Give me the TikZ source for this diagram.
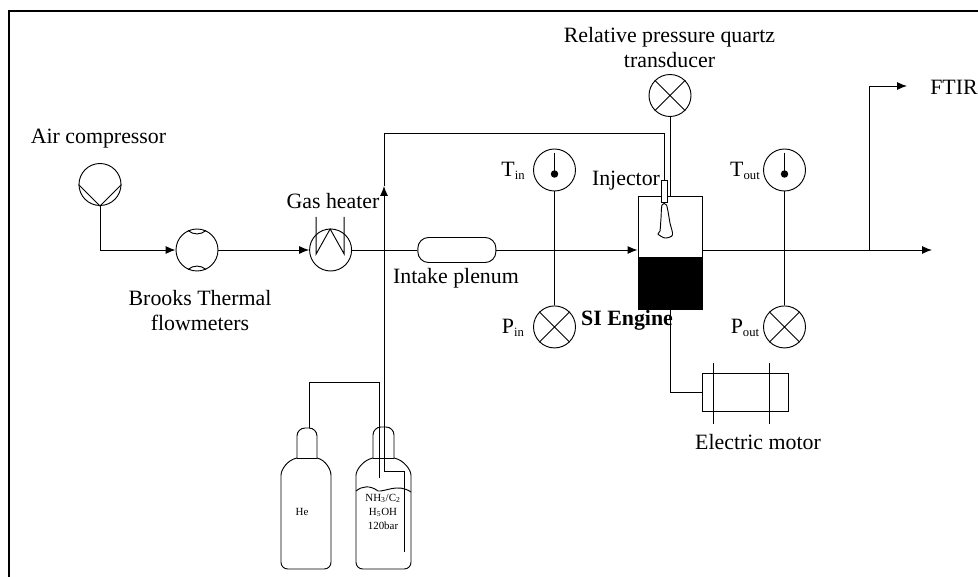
\documentclass[tikz,border=0pt]{standalone}
\usepackage{fontspec}
\setmainfont{Liberation Serif}
\usetikzlibrary{positioning,arrows.meta}
\newcommand{\lbl}{\fontsize{16.4}{18.7}\selectfont}
\newcommand{\smalllbl}{\fontsize{8.2}{10.5}\selectfont}
\newcommand{\lowlbl}[1]{\raisebox{-2.5pt}{\fontsize{9.5}{10}\selectfont #1}}

\begin{document}
\begin{tikzpicture}[x=0.75pt,y=-0.75pt,line width=0.7pt,
  inst/.style={draw,circle,inner sep=0pt,minimum size=31.5pt},
  txt/.style={inner sep=0pt,align=center,font=\lbl},
  flow/.style={-{Latex[length=7.5pt,width=6pt]}},
  bottle/.style={draw,rounded corners=5pt}]

  \useasboundingbox (0,0) rectangle (978,577);

  % frame on the top and left side
  \coordinate (frameA) at (9,577);
  \coordinate (frameB) at (9,11);
  \coordinate (frameC) at (978,11);
  \draw[line width=1.6pt] (frameA) -- (frameB) -- (frameC);

  % instruments on the main line
  \node[inst] (comp) at (100,184.5) {};
  \node[inst] (flowm) at (197,250) {};
  \node[inst,right=68pt of flowm] (heater) {};
  \node[draw,rounded corners=8pt,minimum width=58.5pt,minimum height=18.75pt,inner sep=0pt,
    right=49pt of heater] (plenum) {};

  % engine and injector
  \node[draw,minimum width=48pt,minimum height=84.75pt,inner sep=0pt] (engine) at (670,252.5) {};
  \node[fill=black,draw,minimum width=48pt,minimum height=39pt,inner sep=0pt,
    anchor=south] (piston) at (engine.south) {};
  \node[draw,fill=white,minimum width=4.5pt,minimum height=17pt,inner sep=0pt] (injector) at (664,191.5) {};
  \node[inst] (trans) at (670,95.5) {};

  % gauges
  \node[inst] (tin) at (554.5,170) {};
  \node[inst,below=85.5pt of tin] (pin) {};
  \node[inst] (tout) at (784.5,170) {};
  \node[inst,below=85.5pt of tout] (pout) {};

  % motor
  \node[draw,minimum width=64.5pt,minimum height=28.5pt,inner sep=0pt] (motor) at (745,392) {};

  % free ends of the lines
  \coordinate (outlet) at (932,250);
  \coordinate (branch) at (869,250);
  \coordinate (ftir) at (907,86);
  \coordinate (top) at (384,133);
  \coordinate (head) at (384,186);
  \coordinate (dipa) at (404,471);
  \coordinate (dipb) at (404,552);
  \coordinate (bottom) at (384,471);

  % labels
  \node[txt] (lcomp) at (98.5,139) {Air compressor};
  \node[txt] (lflow) at (200,310.5) {Brooks Thermal\\flowmeters};
  \node[txt] (lheat) at (333,201) {Gas heater};
  \node[txt] (lplen) at (456,278) {Intake plenum};
  \node[txt] (ltrans) at (669.5,47.5) {Relative pressure quartz\\transducer};
  \node[txt] (linj) at (626,181) {Injector};
  \node[txt,font=\lbl\bfseries] (leng) at (627,320) {SI Engine};
  \node[txt] (lmot) at (758,442) {Electric motor};
  \node[txt] (lftir) at (954,87) {FTIR};
  \node[txt] (ltin) at (513,171) {T\lowlbl{in}};
  \node[txt] (lpin) at (513,328) {P\lowlbl{in}};
  \node[txt] (ltout) at (745,171) {T\lowlbl{out}};
  \node[txt] (lpout) at (745,328) {P\lowlbl{out}};

  % main line
  \draw[flow] (comp.south) |- (flowm.west);
  \draw[flow] (flowm) -- (heater);
  \draw (heater) -- (plenum);
  \draw[flow] (plenum) -- (plenum -| engine.west);
  \draw[flow] (engine.east |- branch) -- (outlet);
  \draw[flow] (branch) |- (ftir);

  % fuel line
  \draw[flow] (bottom) -- (head);
  \draw (head) -- (top) -| (injector.north);
  \draw (bottom) -- (dipa) -- (dipb);

  % sensors
  \draw (trans) -- (engine.north -| trans);
  \draw (tin) -- (pin);
  \draw (tout) -- (pout);
  \draw (piston.south) |- (motor.west);

  % symbols inside the circles
  \draw (comp.west) -- (comp.south) -- (comp.east);
  \draw (flowm.north) ++(-9,2) to[bend right=40] ++(18,0);
  \draw (flowm.south) ++(-9,-2) to[bend left=40] ++(18,0);
  \draw (heater.west) ++(7,-33) -- ++(0,37) -- ++(14,-25) -- ++(14,25) -- ++(0,-37);
  \draw (trans.north west) -- (trans.south east) (trans.north east) -- (trans.south west);
  \draw (pin.north west) -- (pin.south east) (pin.north east) -- (pin.south west);
  \draw (pout.north west) -- (pout.south east) (pout.north east) -- (pout.south west);
  \fill (tin)+(0,4) circle (2.8pt);
  \draw (tin.north) ++(0,4) -- ++(0,21);
  \fill (tout)+(0,4) circle (2.8pt);
  \draw (tout.north) ++(0,4) -- ++(0,21);

  % spray below the injector
  \draw plot[smooth cycle,tension=0.5] coordinates {(662,205) (661,218) (660,231) (658,234)
    (665,238) (672.5,235) (670,223) (666.5,205)};

  % motor bars
  \draw (motor.west) ++(12,-29) -- ++(0,61);
  \draw (motor.west) ++(68,-29) -- ++(0,61);

  % bottles
  \draw[bottle,rounded corners=6pt] (297,458) -- (297,428) -- (317,428) -- (317,458);
  \draw[bottle,rounded corners=6pt] (373,458) -- (373,427) -- (394,427) -- (394,458);
  \draw (297,458) -- (317,458) (373,458) -- (394,458);
  \draw[bottle] (297,458) .. controls (287,460) and (281,470) .. (281,482) -- (281,569) -- (331,569)
    -- (331,482) .. controls (331,470) and (326,460) .. (317,458);
  \draw[bottle] (373,458) .. controls (363,460) and (356,470) .. (356,482) -- (356,569) -- (411,569)
    -- (411,482) .. controls (411,470) and (404,460) .. (394,458);
  \draw (356,491) .. controls (362,486) and (370,485) .. (378,491) .. controls (385,492) and (398,483) .. (411,492);
  \draw (309,428) -- (309,382) -- (379,382) -- (379,478);
  \node[txt,font=\smalllbl] (lhe) at (302,512) {He};
  \node[txt,font=\smalllbl,align=center] (lfuel) at (383,512) {NH\textsubscript{3}/C\textsubscript{2}\\H\textsubscript{5}OH\\120bar};
\end{tikzpicture}
\end{document}
